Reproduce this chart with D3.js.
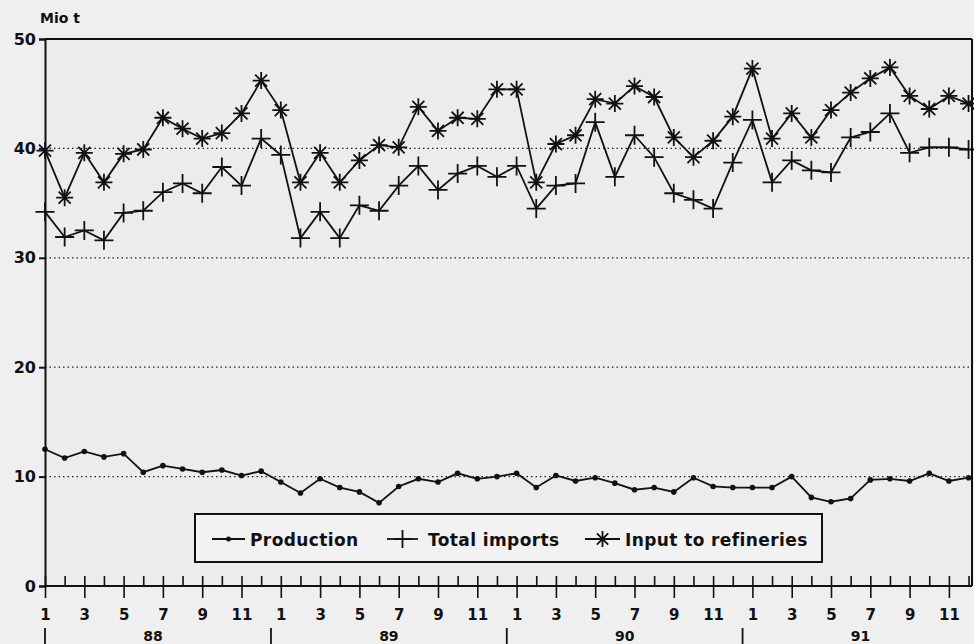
<!DOCTYPE html>
<html><head><meta charset="utf-8">
<script src="https://cdn.jsdelivr.net/npm/d3@7"></script>
<style>
html,body{margin:0;padding:0;background:#efefef;}
text{font-family:"DejaVu Sans",Arial,sans-serif;font-weight:bold;fill:#111;}
</style></head>
<body>
<svg id="chart" width="974" height="644"></svg>
<script>
const years = ["88","89","90","91"];
const monthLabels = ["1","3","5","7","9","11"];
const yTicks = [0,10,20,30,40,50];
const production = [12.5,11.7,12.3,11.8,12.1,10.4,11.0,10.7,10.4,10.6,10.1,10.5,
  9.5,8.5,9.8,9.0,8.6,7.6,9.1,9.8,9.5,10.3,9.8,10.0,
  10.3,9.0,10.1,9.6,9.9,9.4,8.8,9.0,8.6,9.9,9.1,9.0,
  9.0,9.0,10.0,8.1,7.7,8.0,9.7,9.8,9.6,10.3,9.6,9.9];
const imports = [34.2,31.9,32.5,31.6,34.1,34.3,36.0,36.8,35.9,38.3,36.6,40.9,
  39.4,31.8,34.2,31.8,34.8,34.3,36.6,38.4,36.2,37.7,38.4,37.4,
  38.4,34.5,36.6,36.8,42.4,37.4,41.2,39.2,35.9,35.3,34.5,38.7,
  42.6,36.9,38.9,38.0,37.8,41.0,41.5,43.2,39.6,40.1,40.1,39.9];
const refineries = [39.8,35.5,39.6,36.9,39.5,39.9,42.8,41.8,40.9,41.4,43.2,46.2,
  43.5,36.9,39.6,36.9,38.9,40.3,40.1,43.8,41.6,42.8,42.7,45.4,
  45.4,36.9,40.4,41.2,44.5,44.1,45.7,44.7,41.0,39.2,40.7,42.9,
  47.3,40.9,43.2,41.0,43.5,45.1,46.4,47.4,44.8,43.6,44.8,44.1];
const seriesNames = ["Production","Total imports","Input to refineries"];

const svg = d3.select("#chart");
const L = 45, R = 972, T = 39, B = 586;
const x = d3.scaleLinear().domain([0, 47.2]).range([L, L + 47.2*19.65]);
const y = d3.scaleLinear().domain([0, 50]).range([B, T]);
const n = production.length;

svg.append("rect").attr("width",974).attr("height",644).attr("fill","#efefef");
svg.append("rect").attr("x",L).attr("y",T).attr("width",R-L).attr("height",B-T).attr("fill","#ececec");

// gridlines
svg.append("g").selectAll("line").data(yTicks.filter(v=>v>0 && v<50)).join("line")
  .attr("x1",L).attr("x2",R).attr("y1",d=>y(d)).attr("y2",d=>y(d))
  .attr("stroke","#222").attr("stroke-width",1.3).attr("stroke-dasharray","1.5,3");

// frame top and right
svg.append("line").attr("x1",L).attr("x2",R).attr("y1",T).attr("y2",T).attr("stroke","#111").attr("stroke-width",2);
svg.append("line").attr("x1",R).attr("x2",R).attr("y1",T).attr("y2",B).attr("stroke","#111").attr("stroke-width",2);

// y axis
const yAxis = d3.axisLeft(y).tickValues(yTicks).tickSize(6).tickPadding(3).tickFormat(d3.format("d"));
const gy = svg.append("g").attr("transform",`translate(${L},0)`).call(yAxis);
gy.select(".domain").attr("stroke","#111").attr("stroke-width",2);
gy.selectAll(".tick line").attr("stroke","#111").attr("stroke-width",2);
gy.selectAll("text").style("font-size","16px").style("font-family","DejaVu Sans, Arial").style("font-weight","bold").attr("fill","#111");

// x axis
const months = d3.range(n);
const xAxis = d3.axisBottom(x).tickValues(months).tickSize(0).tickFormat("");
const gx = svg.append("g").attr("transform",`translate(0,${B})`).call(xAxis);
gx.select(".domain").attr("d",`M${L},0H${R}`).attr("stroke","#111").attr("stroke-width",2);
gx.selectAll(".tick").append("line")
  .attr("y1",-10).attr("y2",d=>d%2===0?12:0).attr("stroke","#111").attr("stroke-width",1.6);
gx.selectAll(".tick").filter(d=>d%2===0).append("text")
  .attr("y",34).attr("text-anchor","middle").style("font-size","15px")
  .text(d=>monthLabels[(d%12)/2]);

// year labels and separators
const gyear = svg.append("g");
years.forEach((yr,k)=>{
  const sx = k===0 ? x(0) : (x(12*k-1)+x(12*k))/2;
  gyear.append("line").attr("x1",sx).attr("x2",sx).attr("y1",628).attr("y2",644).attr("stroke","#111").attr("stroke-width",1.8);
  gyear.append("text").attr("x",x(12*k+5.5)).attr("y",641).attr("text-anchor","middle").style("font-size","14px").text(yr);
});

// title
svg.append("text").attr("x",40).attr("y",23).style("font-size","14px").text("Mio t");

// lines
const line = d3.line().x((d,i)=>x(i)).y(d=>y(d));
[production, imports, refineries].forEach(s=>{
  svg.append("path").datum(s).attr("d",line).attr("fill","none").attr("stroke","#111").attr("stroke-width",1.8);
});

// markers
function plusPath(r){return `M${-r},0H${r}M0,${-r}V${r}`;}
function starPath(r){let p="";for(let k=0;k<4;k++){const a=k*Math.PI/4;const dx=r*Math.cos(a),dy=r*Math.sin(a);p+=`M${-dx},${-dy}L${dx},${dy}`;}return p;}
svg.append("g").selectAll("circle").data(production).join("circle")
  .attr("cx",(d,i)=>x(i)).attr("cy",d=>y(d)).attr("r",2.8).attr("fill","#111");
svg.append("g").selectAll("path").data(imports).join("path")
  .attr("transform",(d,i)=>`translate(${x(i)},${y(d)})`).attr("d",plusPath(9.5))
  .attr("stroke","#111").attr("stroke-width",1.8).attr("fill","none");
svg.append("g").selectAll("path").data(refineries).join("path")
  .attr("transform",(d,i)=>`translate(${x(i)},${y(d)})`).attr("d",starPath(8.5))
  .attr("stroke","#111").attr("stroke-width",1.8).attr("fill","none");

// legend
const lg = svg.append("g");
lg.append("rect").attr("x",195).attr("y",514).attr("width",627).attr("height",48)
  .attr("fill","#f2f2f2").attr("stroke","#111").attr("stroke-width",2);
const legendItems = [
  {x0:212,x1:245,tx:250,mark:"dot"},
  {x0:387,x1:418,tx:428,mark:"plus"},
  {x0:585,x1:620,tx:625,mark:"star"}];
legendItems.forEach((it,k)=>{
  const cy = 539, cx=(it.x0+it.x1)/2;
  lg.append("line").attr("x1",it.x0).attr("x2",it.x1).attr("y1",cy).attr("y2",cy).attr("stroke","#111").attr("stroke-width",1.8);
  if(it.mark==="dot") lg.append("circle").attr("cx",cx).attr("cy",cy).attr("r",2.5).attr("fill","#111");
  else lg.append("path").attr("transform",`translate(${cx},${cy})`).attr("d",it.mark==="plus"?plusPath(9):starPath(8)).attr("stroke","#111").attr("stroke-width",1.8);
  lg.append("text").attr("x",it.tx).attr("y",546).style("font-size","17px").style("letter-spacing","0.4px").text(seriesNames[k]);
});
</script>
</body></html>
